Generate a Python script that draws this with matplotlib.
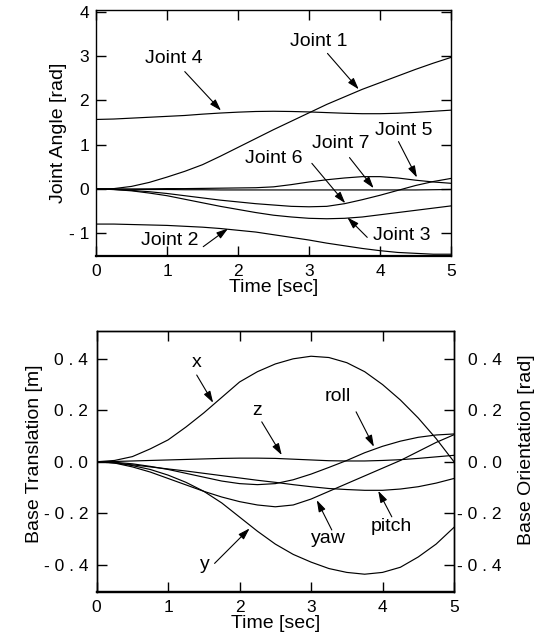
import matplotlib
matplotlib.use("Agg")
import matplotlib.pyplot as plt

plt.rcParams['font.family'] = ['Liberation Sans', 'DejaVu Sans']

# ---------------- data ----------------
t = [0.0, 0.25, 0.5, 0.75, 1.0, 1.25, 1.5, 1.75, 2.0, 2.25, 2.5,
     2.75, 3.0, 3.25, 3.5, 3.75, 4.0, 4.25, 4.5, 4.75, 5.0]

joint1 = [0.0, 0.01, 0.06, 0.15, 0.27, 0.40, 0.55, 0.74, 0.94, 1.14, 1.34,
          1.53, 1.72, 1.91, 2.08, 2.25, 2.40, 2.55, 2.70, 2.84, 2.97]
joint2 = [-0.79, -0.79, -0.80, -0.81, -0.82, -0.84, -0.86, -0.89, -0.93, -0.97, -1.03,
          -1.09, -1.15, -1.22, -1.28, -1.34, -1.39, -1.43, -1.45, -1.47, -1.47]
joint3 = [0.0, -0.01, -0.04, -0.09, -0.15, -0.23, -0.31, -0.39, -0.46, -0.53, -0.59,
          -0.63, -0.66, -0.67, -0.66, -0.63, -0.58, -0.53, -0.48, -0.43, -0.38]
joint4 = [1.57, 1.58, 1.60, 1.62, 1.64, 1.66, 1.69, 1.715, 1.735, 1.75, 1.755,
          1.75, 1.74, 1.725, 1.71, 1.70, 1.70, 1.71, 1.73, 1.755, 1.78]
joint5 = [0.0, 0.0, 0.0, 0.005, 0.01, 0.01, 0.015, 0.02, 0.025, 0.03, 0.05,
          0.10, 0.16, 0.21, 0.25, 0.28, 0.28, 0.25, 0.20, 0.16, 0.13]
joint6 = [0.0, -0.01, -0.03, -0.06, -0.10, -0.15, -0.20, -0.25, -0.29, -0.33, -0.36,
          -0.39, -0.40, -0.39, -0.33, -0.24, -0.14, -0.03, 0.08, 0.17, 0.24]
joint7 = [0.0, 0.0, -0.005, -0.01, -0.01, -0.015, -0.015, -0.02, -0.02, -0.02, -0.02,
          -0.02, -0.02, -0.02, -0.02, -0.02, -0.02, -0.02, -0.02, -0.015, -0.01]

base_x = [0.0, 0.005, 0.02, 0.05, 0.085, 0.135, 0.19, 0.25, 0.31, 0.35, 0.38,
          0.40, 0.41, 0.405, 0.385, 0.35, 0.30, 0.24, 0.17, 0.09, 0.0]
base_y = [0.0, -0.003, -0.015, -0.03, -0.052, -0.08, -0.115, -0.16, -0.215, -0.27, -0.32,
          -0.36, -0.39, -0.415, -0.43, -0.437, -0.43, -0.41, -0.37, -0.32, -0.255]
base_z = [0.0, 0.001, 0.003, 0.005, 0.007, 0.009, 0.011, 0.013, 0.014, 0.014, 0.013,
          0.010, 0.007, 0.004, 0.003, 0.003, 0.005, 0.008, 0.013, 0.019, 0.025]
roll = [0.0, -0.002, -0.008, -0.018, -0.03, -0.045, -0.06, -0.075, -0.085, -0.089, -0.085,
        -0.07, -0.048, -0.022, 0.005, 0.035, 0.06, 0.08, 0.095, 0.104, 0.108]
pitch = [0.0, -0.005, -0.012, -0.02, -0.028, -0.036, -0.045, -0.054, -0.063, -0.072, -0.08,
         -0.089, -0.097, -0.104, -0.108, -0.111, -0.111, -0.106, -0.097, -0.083, -0.065]
yaw = [0.0, -0.005, -0.02, -0.04, -0.065, -0.09, -0.115, -0.137, -0.155, -0.168, -0.175,
       -0.168, -0.145, -0.115, -0.085, -0.055, -0.025, 0.005, 0.04, 0.075, 0.105]

x_ticks = [0, 1, 2, 3, 4, 5]
top_yticks = [-1, 0, 1, 2, 3, 4]
top_yticklabels = ["- 1", "0", "1", "2", "3", "4"]
bot_yticks = [-0.4, -0.2, 0.0, 0.2, 0.4]
bot_yticklabels = ["- 0 . 4", "- 0 . 2", "0 . 0", "0 . 2", "0 . 4"]

# annotation labels: (text, text pos, arrow tail, arrow tip)
top_notes = [
    ("Joint 4", (1.09, 2.95), (1.25, 2.65), (1.76, 1.77)),
    ("Joint 1", (3.13, 3.33), (3.26, 3.06), (3.70, 2.25)),
    ("Joint 5", (4.33, 1.33), (4.26, 1.07), (4.52, 0.26)),
    ("Joint 7", (3.44, 1.03), (3.57, 0.71), (3.91, 0.02)),
    ("Joint 6", (2.51, 0.69), (3.04, 0.58), (3.51, -0.32)),
    ("Joint 3", (4.31, -1.04), (3.82, -1.09), (3.54, -0.64)),
    ("Joint 2", (1.04, -1.17), (1.51, -1.30), (1.86, -0.89)),
]
bot_notes = [
    ("x", (1.40, 0.386), (1.40, 0.337), (1.63, 0.229)),
    ("z", (2.24, 0.198), (2.31, 0.155), (2.59, 0.026)),
    ("roll", (3.38, 0.255), (3.63, 0.194), (3.88, 0.058)),
    ("pitch", (4.13, -0.252), (4.13, -0.214), (3.94, -0.113)),
    ("yaw", (3.24, -0.298), (3.29, -0.265), (3.08, -0.149)),
    ("y", (1.51, -0.401), (1.65, -0.395), (2.14, -0.259)),
]

# ---------------- figure ----------------
fig = plt.figure(figsize=(5.37, 6.44), dpi=100)
ax1 = fig.add_axes([0.1788, 0.6025, 0.6611, 0.382])
ax3 = fig.add_axes([0.1800, 0.0812, 0.6654, 0.4048])

lw = 0.85
for series in (joint1, joint2, joint3, joint4, joint5, joint6, joint7):
    ax1.plot(t, series, color='black', lw=lw)

ax3.plot(t, base_x, color='black', lw=lw)
ax3.plot(t, base_y, color='black', lw=lw)
ax3.plot(t, base_z, color='black', lw=lw)
ax4 = ax3.twinx()
ax4.plot(t, roll, color='black', lw=lw)
ax4.plot(t, pitch, color='black', lw=lw)
ax4.plot(t, yaw, color='black', lw=lw)

arrow = dict(arrowstyle='-|>,head_length=0.7,head_width=0.22', color='black',
             lw=0.8, mutation_scale=10, shrinkA=0, shrinkB=0)

def annotate(ax, notes):
    for txt, tpos, tail, tip in notes:
        ax.text(tpos[0], tpos[1], txt, fontsize=14, ha='center', va='center')
        ax.annotate('', xy=tip, xytext=tail, arrowprops=arrow)

annotate(ax1, top_notes)
annotate(ax3, bot_notes)

tick_fs = 12.5

# top axes style
ax1.set_xlim(0, 5)
ax1.set_ylim(-1.51, 4.04)
ax1.set_xticks(x_ticks)
ax1.set_yticks(top_yticks)
ax1.set_yticklabels(top_yticklabels)
ax1.tick_params(direction='in', length=7, width=1, labelsize=tick_fs,
                top=True, right=True, pad=5)
ax1.tick_params(axis='x', pad=6)
ax1.set_xlabel("Time [sec]", fontsize=14, labelpad=0)
ax1.set_ylabel("Joint Angle [rad]", fontsize=14)
ax1.yaxis.set_label_coords(-0.082, 0.5)

# bottom axes style
for ax in (ax3, ax4):
    ax.set_xlim(0, 5)
    ax.set_ylim(-0.505, 0.508)
    ax.set_yticks(bot_yticks)
    ax.set_yticklabels(bot_yticklabels)
ax3.set_xticks(x_ticks)
ax3.tick_params(direction='in', length=7, width=1, labelsize=tick_fs,
                top=True, right=False, pad=6)
ax3.tick_params(axis='x', pad=6)
ax4.tick_params(direction='in', length=7, width=1, labelsize=tick_fs, pad=34.5)
for lab in ax4.get_yticklabels():
    lab.set_horizontalalignment('right')
ax3.set_xlabel("Time [sec]", fontsize=14, labelpad=0)
ax3.set_ylabel("Base Translation [m]", fontsize=14)
ax3.yaxis.set_label_coords(-0.150, 0.53)
ax4.set_ylabel("Base Orientation [rad]", fontsize=14)
ax4.yaxis.set_label_coords(1.178, 0.545)

for ax in (ax1, ax3, ax4):
    for sp in ax.spines.values():
        sp.set_linewidth(1.0)
    ax.spines['bottom'].set_linewidth(1.6)

fig.savefig("out.png", dpi=100)
